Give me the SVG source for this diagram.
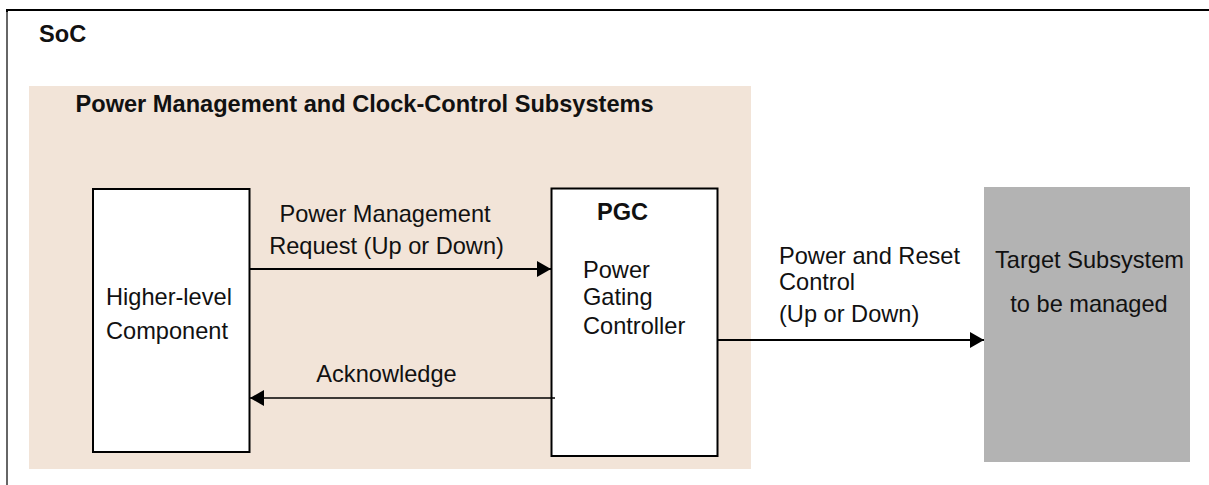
<svg xmlns="http://www.w3.org/2000/svg" width="1209" height="485" viewBox="0 0 1209 485">
<style>
text{font-family:"Liberation Sans",Arial,sans-serif;font-size:23.6px;fill:#111}
.b{font-weight:bold}
.box{fill:#fff;stroke:#000;stroke-width:2}
.ln{stroke:#000;stroke-width:2;fill:none}
</style>
<defs>
<marker id="ah" viewBox="0 0 14 16" refX="14" refY="8" markerWidth="14" markerHeight="16" markerUnits="userSpaceOnUse" orient="auto">
<path d="M0,0 L14,8 L0,16 Z" fill="#000"/>
</marker>
</defs>
<rect width="1209" height="485" fill="#fff"/>
<g id="soc">
<path d="M1215,10 H7 V490" fill="none" stroke="#000" stroke-width="2"/>
<path d="M7,12 V490" fill="none" stroke="#666" stroke-width="2"/>
<text x="39" y="41.5" class="b">SoC</text>
</g>
<g id="pmccs">
<rect x="29" y="86" width="722" height="383" fill="#f2e4d8"/>
<text x="75.5" y="112" class="b">Power Management and Clock-Control Subsystems</text>
</g>
<g id="higher">
<rect x="93" y="189" width="156.5" height="263" class="box"/>
<text x="106" y="305">Higher-level</text>
<text x="106" y="339">Component</text>
</g>
<g id="pgc">
<rect x="551.5" y="188.5" width="166" height="267.5" class="box"/>
<text x="597" y="219.5" class="b">PGC</text>
<text x="583" y="277.5">Power</text>
<text x="583" y="305">Gating</text>
<text x="583" y="333.5">Controller</text>
</g>
<g id="target">
<rect x="984" y="187" width="206" height="275" fill="#b3b3b3"/>
<text x="1089.5" y="267.5" text-anchor="middle">Target Subsystem</text>
<text x="1089" y="311.5" text-anchor="middle">to be managed</text>
</g>
<g id="connectors">
<line x1="249.5" y1="269" x2="551" y2="269" class="ln" marker-end="url(#ah)"/>
<line x1="555" y1="398" x2="250" y2="398" stroke="#000" stroke-width="1.5" marker-end="url(#ah)"/>
<line x1="717.5" y1="340" x2="984" y2="340" class="ln" marker-end="url(#ah)"/>
</g>
<g id="labels">
<text x="385" y="222" text-anchor="middle">Power Management</text>
<text x="386.5" y="253.5" text-anchor="middle">Request (Up or Down)</text>
<text x="386.5" y="382" text-anchor="middle">Acknowledge</text>
<text x="779" y="263.5">Power and Reset</text>
<text x="779" y="290">Control</text>
<text x="779" y="321.5">(Up or Down)</text>
</g>
</svg>
